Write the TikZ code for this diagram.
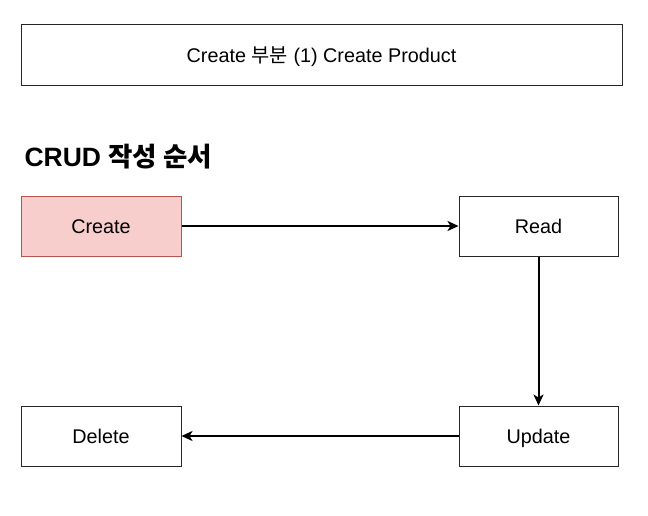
\documentclass[tikz,border=0pt]{standalone}
\usepackage{fontspec}
\setmainfont{Liberation Sans}
\newfontfamily\kr{Noto Sans CJK KR}
\usetikzlibrary{arrows.meta}
\begin{document}
\begin{tikzpicture}[x=1pt,y=-1pt,
  box/.style={draw=black!85,line width=1pt,minimum width=160pt,minimum height=60pt,inner sep=0pt,text height=14pt,text depth=0pt,font=\fontsize{19.8}{22}\selectfont},
  conn/.style={line width=2pt,-{Stealth[length=11pt,width=10pt,inset=3pt]}}]
\useasboundingbox (0,0) rectangle (648,516);
\definecolor{pinkfill}{HTML}{F8CECC}
\definecolor{pinkline}{HTML}{B85450}
\node[box,minimum width=601pt,minimum height=61pt] (top) at (321.5,55.5) {Create {\kr 부분} (1) Create Product};
\node[anchor=west,font=\fontsize{26.5}{28}\selectfont\bfseries] (title) at (21,157) {CRUD {\kr\bfseries 작성 순서}};
\node[box,draw=pinkline,fill=pinkfill] (create) at (101,226) {Create};
\node[box,minimum width=159pt] (read) at (538.5,226) {Read};
\node[box,minimum width=159pt] (update) at (538.5,436) {Update};
\node[box] (delete) at (101,436) {Delete};
\draw[conn] (create) -- (read);
\draw[conn] (read) -- (update);
\draw[conn] (update) -- (delete);
\end{tikzpicture}
\end{document}
